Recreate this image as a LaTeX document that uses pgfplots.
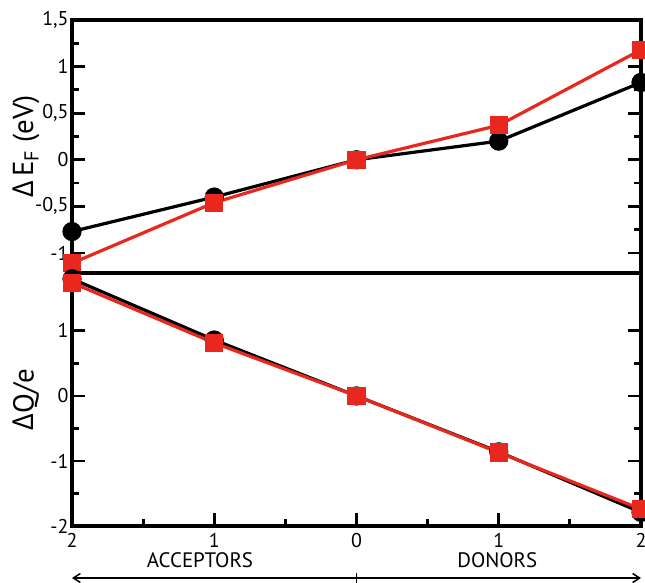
\documentclass[border=0pt]{standalone}
\usepackage{pgfplots}
\pgfplotsset{compat=1.18}
\usepackage{fontspec}
\setmainfont{PT Sans}
\newfontfamily\grk{Open Sans}
\usetikzlibrary{arrows.meta}
\definecolor{myred}{RGB}{232,40,30}

\begin{document}
\begin{tikzpicture}
\pgfplotsset{
  common/.style={
    scale only axis, width=569bp, height=253bp,
    xmin=-2, xmax=2, clip=false,
    axis line style={line width=3.5bp},
    tick align=inside, major tick length=13bp, minor tick length=7bp,
    every tick/.style={line width=2.8bp, black},
    ytick pos=both, yticklabel pos=left,
    tick label style={font=\fontsize{20}{22}\selectfont},
    xticklabel style={yshift=-4bp},
    ylabel style={font=\fontsize{29}{32}\selectfont, at={(axis description cs:-0.081,0.5)}, anchor=center},
    minor y tick num=1,
  },
  blk/.style={black, line width=3.2bp, mark=*, mark size=8bp},
  rd/.style={myred, line width=3.2bp, mark=square*, mark size=7.5bp, mark options={fill=myred, draw=myred}},
}
\begin{axis}[common, name=top,
  ymin=-1.215, ymax=1.5,
  xtick=\empty,
  ytick={-1,-0.5,0,0.5,1,1.5},
  yticklabels={{-1},{-0,5},{0},{0,5},{1},{1,5}},
  ylabel={{\grk Δ}\,E\textsubscript{F} (eV)},
]
\addplot[blk] coordinates {(-2,-0.77) (-1,-0.40) (0,0) (1,0.20) (2,0.83)};
\addplot[rd] coordinates {(-2,-1.11) (-1,-0.46) (0,0) (1,0.37) (2,1.18)};
\end{axis}
\begin{axis}[common, name=bot, at={(top.south west)}, anchor=north west,
  ymin=-2, ymax=1.89,
  xtick={-2,-1,0,1,2}, xticklabels={2,1,0,1,2},
  minor x tick num=1, xtick pos=bottom,
  ytick={-2,-1,0,1},
  yticklabels={{-2},{-1},{0},{1}},
  ylabel={{\grk Δ}Q/e},
]
\addplot[blk] coordinates {(-2,1.80) (-1,0.86) (0,0) (1,-0.86) (2,-1.79)};
\addplot[rd] coordinates {(-2,1.74) (-1,0.815) (0,0) (1,-0.87) (2,-1.74)};
\node[font=\fontsize{21}{23}\selectfont] at ([yshift=-34bp]axis cs:-1.10,-2) {ACCEPTORS};
\node[font=\fontsize{21}{23}\selectfont] at ([yshift=-34bp]axis cs:0.99,-2) {DONORS};
\draw[line width=1.5bp, {Straight Barb[length=7bp,width=9bp]}-{Straight Barb[length=7bp,width=9bp]}]
  ([yshift=-52bp]axis cs:-2,-2) -- ([yshift=-52bp]axis cs:2,-2);
\draw[line width=1.5bp] ([yshift=-47bp]axis cs:0,-2) -- ([yshift=-57bp]axis cs:0,-2);
\end{axis}
\pgfresetboundingbox
\path[use as bounding box] ([shift={(-72bp,-57bp)}]bot.south west) rectangle ([shift={(4bp,20bp)}]top.north east);
\end{tikzpicture}
\end{document}
